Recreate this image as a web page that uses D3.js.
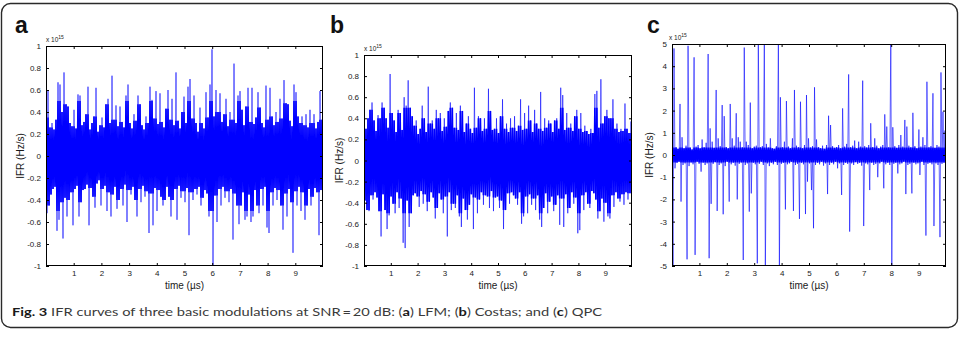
<!DOCTYPE html>
<html><head><meta charset="utf-8">
<script src="https://cdn.jsdelivr.net/npm/d3@7"></script>
<style>body{margin:0;background:#fff}svg{display:block}</style>
</head><body>
<svg id="chart" width="959" height="346"></svg>
<script>
// ---------------- data ----------------
const timeDomain = [0, 10];                    // time (µs)
const xTickValues = [1, 2, 3, 4, 5, 6, 7, 8, 9];
const yTicksAB = [-1, -0.8, -0.6, -0.4, -0.2, 0, 0.2, 0.4, 0.6, 0.8, 1];
const yTicksC = [-5, -4, -3, -2, -1, 0, 1, 2, 3, 4, 5];
const panelLetters = ["a", "b", "c"];
const scaleExponent = "15";
const xLabel = "time (\u00b5s)";
const yLabel = "IFR (Hz/s)";

// IFR samples (×10^15 Hz/s), alternating positive (upper) / negative (lower) excursions
const lfmUpper = [0.35,0.60,0.26,0.30,0.24,0.33,0.67,0.65,0.40,0.76,0.47,0.45,0.30,0.27,0.42,0.25,0.56,0.55,0.28,0.31,
0.38,0.63,0.24,0.30,0.36,0.62,0.22,0.28,0.35,0.26,0.47,0.52,0.30,0.73,0.33,0.46,0.27,0.45,0.31,0.26,
0.55,0.65,0.30,0.25,0.38,0.32,0.55,0.47,0.28,0.24,0.36,0.30,0.63,0.51,0.34,0.59,0.29,0.57,0.31,0.26,
0.43,0.60,0.33,0.52,0.28,0.76,0.32,0.25,0.40,0.54,0.30,0.63,0.70,0.34,0.55,0.30,0.22,0.44,0.30,0.25,
0.58,0.35,0.65,0.97,0.36,0.60,0.40,0.57,0.31,0.38,0.52,0.27,0.40,0.33,0.84,0.30,0.55,0.59,0.42,0.28,
0.45,0.62,0.31,0.62,0.29,0.35,0.58,0.44,0.30,0.26,0.64,0.33,0.62,0.36,0.28,0.40,0.31,0.52,0.34,0.69,
0.48,0.47,0.32,0.27,0.65,0.58,0.36,0.30,0.36,0.28,0.38,0.26,0.42,0.30,0.38,0.25,0.31,0.59,0.33];
const lfmLower = [-0.52,-0.45,-0.35,-0.30,-0.28,-0.68,-0.58,-0.42,-0.75,-0.38,-0.55,-0.40,-0.33,-0.63,-0.30,-0.27,-0.55,-0.42,-0.31,-0.30,
-0.26,-0.63,-0.29,-0.37,-0.47,-0.25,-0.22,-0.45,-0.30,-0.27,-0.50,-0.33,-0.55,-0.35,-0.28,-0.48,-0.40,-0.30,-0.45,-0.26,
-0.60,-0.31,-0.35,-0.28,-0.40,-0.55,-0.30,-0.42,-0.27,-0.37,-0.32,-0.70,-0.34,-0.63,-0.29,-0.50,-0.31,-0.37,-0.45,-0.40,
-0.28,-0.37,-0.55,-0.40,-0.30,-0.58,-0.27,-0.38,-0.32,-0.42,-0.29,-0.72,-0.33,-0.40,-0.30,-0.35,-0.28,-0.45,-0.38,-0.31,
-0.34,-0.55,-0.50,-1.00,-0.36,-0.60,-0.30,-0.45,-0.28,-0.38,-0.32,-0.42,-0.30,-0.76,-0.34,-0.45,-0.62,-0.45,-0.33,-0.58,
-0.55,-0.35,-0.60,-0.55,-0.31,-0.45,-0.52,-0.30,-0.45,-0.28,-0.65,-0.70,-0.33,-0.45,-0.29,-0.40,-0.31,-0.45,-0.67,-0.34,
-0.55,-0.30,-0.42,-0.88,-0.32,-0.45,-0.28,-0.50,-0.33,-0.58,-0.45,-0.30,-0.45,-0.37,-0.29,-0.33,-0.72,-0.31,-0.35];

const costasUpper = [0.52,0.30,0.40,0.48,0.55,0.38,0.28,0.43,0.40,0.55,0.50,0.40,0.31,0.82,0.45,0.38,0.27,0.48,0.45,0.29,
0.60,0.52,0.76,0.50,0.42,0.33,0.38,0.25,0.30,0.52,0.40,0.27,0.70,0.35,0.38,0.30,0.48,0.40,0.45,0.28,
0.40,0.32,0.47,0.55,0.50,0.31,0.45,0.29,0.52,0.47,0.27,0.35,0.42,0.30,0.26,0.69,0.31,0.42,0.40,0.28,
0.40,0.30,0.68,0.47,0.29,0.30,0.40,0.26,0.42,0.58,0.30,0.35,0.27,0.40,0.31,0.42,0.28,0.33,0.58,0.29,
0.45,0.30,0.52,0.38,0.27,0.48,0.35,0.30,0.65,0.28,0.40,0.31,0.38,0.35,0.27,0.38,0.40,0.30,0.69,0.62,
0.29,0.45,0.31,0.35,0.28,0.42,0.48,0.30,0.45,0.27,0.33,0.28,0.25,0.30,0.26,0.63,0.66,0.31,0.77,0.35,
0.42,0.48,0.40,0.40,0.58,0.30,0.35,0.27,0.30,0.28,0.54,0.30,0.26,0.37];
const costasLower = [-0.38,-0.47,-0.48,-0.33,-0.37,-0.30,-0.35,-0.48,-0.72,-0.32,-0.47,-0.65,-0.52,-0.34,-0.41,-0.50,-0.30,-0.45,-0.36,-0.78,
-0.83,-0.38,-0.63,-0.50,-0.33,-0.31,-0.34,-0.44,-0.29,-0.41,-0.32,-0.48,-0.39,-0.30,-0.35,-0.55,-0.45,-0.31,-0.37,-0.50,
-0.34,-0.72,-0.30,-0.47,-0.41,-0.45,-0.33,-0.53,-0.63,-0.36,-0.47,-0.56,-0.42,-0.32,-0.65,-0.35,-0.50,-0.37,-0.30,-0.42,
-0.33,-0.34,-0.45,-0.29,-0.48,-0.35,-0.34,-0.45,-0.38,-0.65,-0.47,-0.31,-0.41,-0.30,-0.33,-0.36,-0.42,-0.30,-0.60,-0.53,
-0.34,-0.50,-0.32,-0.42,-0.36,-0.47,-0.33,-0.56,-0.63,-0.45,-0.31,-0.50,-0.39,-0.34,-0.48,-0.42,-0.33,-0.61,-0.36,-0.63,
-0.32,-0.50,-0.45,-0.30,-0.41,-0.35,-0.69,-0.66,-0.33,-0.47,-0.30,-0.41,-0.45,-0.29,-0.31,-0.37,-0.55,-0.48,-0.36,-0.58,
-0.40,-0.53,-0.55,-0.33,-0.44,-0.30,-0.36,-0.39,-0.32,-0.42,-0.30,-0.37,-0.31,-0.35];

const qpcUpper = [0.50,4.80,0.35,0.28,2.30,0.80,0.30,0.42,4.92,0.33,0.25,4.40,0.38,0.45,0.30,0.70,0.35,0.55,4.55,1.20,
0.60,0.32,2.93,0.75,0.40,2.25,1.75,0.36,0.30,2.30,0.75,0.42,1.88,0.80,0.60,0.35,4.84,0.60,0.45,2.36,
0.30,0.38,0.42,5.20,0.35,0.40,5.20,0.50,0.33,0.75,0.30,0.28,0.40,5.20,2.60,0.35,0.60,2.43,0.38,0.30,
0.75,2.93,0.42,0.35,2.40,0.30,0.45,2.70,0.75,0.33,0.40,3.05,0.70,0.35,0.30,0.42,0.28,0.45,1.77,1.35,
0.40,0.32,0.36,0.45,0.30,2.10,0.38,0.50,3.63,0.35,0.42,0.65,0.30,0.60,0.38,3.35,0.40,0.33,0.45,1.43,
0.36,0.75,0.42,0.30,0.38,0.45,1.83,1.28,0.35,5.20,1.25,0.40,0.32,0.45,0.90,0.38,1.58,1.28,0.42,0.35,
1.90,0.40,0.30,1.15,0.38,0.80,0.45,3.30,0.35,0.40,2.78,0.32,0.45,0.38,3.72,1.95,1.10];
const qpcLower = [-5.20,-0.60,-0.35,-0.30,-2.10,-0.45,-0.38,-4.70,-0.50,-0.33,-0.42,-4.50,-0.30,-0.40,-0.75,-0.35,-0.45,-0.38,-4.65,-2.20,
-0.40,-0.32,-2.52,-0.45,-0.38,-2.67,-0.50,-0.30,-2.10,-0.42,-0.35,-0.48,-2.00,-0.40,-0.33,-4.73,-0.45,-0.38,-2.55,-1.73,
-0.35,-0.42,-4.88,-0.40,-0.30,-0.45,-5.20,-0.38,-0.50,-0.35,-0.42,-0.30,-0.45,-5.20,-0.40,-0.35,-2.45,-0.42,-0.38,-0.30,
-2.52,-0.45,-0.40,-2.88,-0.35,-0.42,-2.66,-1.20,-0.38,-1.58,-3.30,-0.45,-0.35,-0.42,-0.30,-0.48,-0.38,-1.76,-0.45,-0.35,
-0.42,-0.30,-0.60,-0.38,-1.80,-0.45,-0.35,-0.40,-3.45,-0.38,-0.45,-0.32,-0.40,-0.35,-0.48,-3.20,-0.38,-0.42,-1.58,-0.35,
-0.45,-0.40,-1.00,-0.38,-0.30,-1.50,-0.42,-0.35,-0.45,-5.20,-0.40,-0.35,-0.83,-0.42,-0.38,-0.30,-1.76,-0.45,-0.40,-1.73,
-0.35,-0.42,-0.38,-0.90,-0.30,-0.45,-3.63,-0.40,-0.35,-0.42,-3.20,-0.38,-0.45,-3.70,-0.40,-0.35,-0.68];

const captionParts = [
  {t: "Fig. 3", b: true}, {t: " IFR curves of three basic modulations at SNR\u2009=\u200920 dB: (", b: false},
  {t: "a", b: true}, {t: ") LFM; (", b: false}, {t: "b", b: true}, {t: ") Costas; and (", b: false},
  {t: "c", b: true}, {t: ") QPC", b: false}
];

// ---------------- layout ----------------
const panels = [
  {letter: panelLetters[0], up: lfmUpper, lo: lfmLower, yTicks: yTicksAB, yDom: [-1, 1], coreCap: 0.5,
   box: {l: 46, r: 323, t: 46, b: 266}, letterX: 15, yTitleX: 20, expX: 46},
  {letter: panelLetters[1], up: costasUpper, lo: costasLower, yTicks: yTicksAB, yDom: [-1, 1], coreCap: 0.5,
   box: {l: 364, r: 632, t: 55, b: 266}, letterX: 330, yTitleX: 339, expX: 364},
  {letter: panelLetters[2], up: qpcUpper, lo: qpcLower, yTicks: yTicksC, yDom: [-5, 5], coreCap: 0.34,
   box: {l: 672, r: 946, t: 44, b: 266}, letterX: 647, yTitleX: 649, expX: 669}
];

const svg = d3.select("#chart");
const FONT = "'Liberation Sans', Arial, sans-serif";

svg.append("rect").attr("x", 1.5).attr("y", 3.5).attr("width", 956).attr("height", 324)
  .attr("rx", 9).attr("fill", "none").attr("stroke", "#2a2a2a").attr("stroke-width", 1.4);

const defs = svg.append("defs");

panels.forEach((p, pi) => {
  const B = p.box;
  const x = d3.scaleLinear().domain(timeDomain).range([B.l, B.r]);
  const y = d3.scaleLinear().domain(p.yDom).range([B.b, B.t]);

  const samples = [];
  p.up.forEach((u, k) => { samples.push(u); if (k < p.lo.length) samples.push(p.lo[k]); });
  const n = samples.length;
  const pts = samples.map((v, i) => ({t: timeDomain[0] + i * (timeDomain[1] - timeDomain[0]) / (n - 1), v}));

  const g = svg.append("g");
  defs.append("clipPath").attr("id", "clip" + pi).append("rect")
    .attr("x", B.l).attr("y", B.t).attr("width", B.r - B.l).attr("height", B.b - B.t);

  const line = d3.line().x(d => x(d.t)).y(d => y(d.v));
  // full trace: isolated excursions appear light, as in the anti-aliased original
  g.append("path").datum(pts)
    .attr("clip-path", `url(#clip${pi})`)
    .attr("fill", "none").attr("stroke", "#0000ff").attr("stroke-opacity", 0.58).attr("stroke-width", 1)
    .attr("d", line);
  // dense core: where neighbouring excursions overlap, the trace renders solid
  const corePts = pts.map((d, i) => {
    const a = Math.abs(d.v);
    const nb = Math.max(i >= 2 ? Math.abs(pts[i - 2].v) : 0, i + 2 < n ? Math.abs(pts[i + 2].v) : 0);
    const m = Math.min(a, nb, p.coreCap);
    return {t: d.t, v: Math.sign(d.v) * m};
  });
  g.append("path").datum(corePts)
    .attr("clip-path", `url(#clip${pi})`)
    .attr("fill", "none").attr("stroke", "#0000ff").attr("stroke-width", 1.6)
    .attr("d", line);

  const fmt = d => String(d);
  const styleAxis = sel => {
    sel.selectAll("path.domain").remove();
    sel.selectAll("line").attr("stroke", "#000");
    sel.selectAll("text").attr("font-family", FONT).attr("font-size", 8).attr("fill", "#1a1a1a");
  };
  g.append("g").attr("transform", `translate(0,${B.b})`)
    .call(d3.axisBottom(x).tickValues(xTickValues).tickSize(-3).tickPadding(4).tickFormat(fmt)).call(styleAxis);
  g.append("g").attr("transform", `translate(0,${B.t})`)
    .call(d3.axisTop(x).tickValues(xTickValues).tickSize(-3).tickFormat("")).call(styleAxis);
  g.append("g").attr("transform", `translate(${B.l},0)`)
    .call(d3.axisLeft(y).tickValues(p.yTicks).tickSize(-3).tickPadding(5).tickFormat(fmt)).call(styleAxis);
  g.append("g").attr("transform", `translate(${B.r},0)`)
    .call(d3.axisRight(y).tickValues(p.yTicks).tickSize(-3).tickFormat("")).call(styleAxis);

  g.append("rect").attr("x", B.l + 0.5).attr("y", B.t + 0.5).attr("width", B.r - B.l - 1).attr("height", B.b - B.t - 1)
    .attr("fill", "none").attr("stroke", "#000").attr("stroke-width", 1);

  const ex = g.append("text").attr("x", p.expX).attr("y", B.t - 4)
    .attr("font-family", FONT).attr("font-size", 6.5).attr("fill", "#1a1a1a");
  ex.append("tspan").text("x 10");
  ex.append("tspan").attr("dy", -3).attr("font-size", 5).text(scaleExponent);

  g.append("text").attr("x", (B.l + B.r) / 2).attr("y", 289).attr("text-anchor", "middle")
    .attr("font-family", FONT).attr("font-size", 10).attr("fill", "#1a1a1a").text(xLabel);
  g.append("text").attr("transform", `translate(${p.yTitleX},${(B.t + B.b) / 2}) rotate(-90)`)
    .attr("text-anchor", "middle").attr("dy", "0.35em")
    .attr("font-family", FONT).attr("font-size", 10).attr("fill", "#1a1a1a").text(yLabel);

  g.append("text").attr("x", p.letterX).attr("y", 33)
    .attr("font-family", FONT).attr("font-size", 23).attr("font-weight", "bold").attr("fill", "#111").text(p.letter);
});

const cap = svg.append("text").attr("x", 12).attr("y", 316)
  .attr("font-family", "Lato, 'Open Sans', sans-serif").attr("font-size", 12).attr("fill", "#3a3a3a")
  .attr("textLength", 590).attr("lengthAdjust", "spacingAndGlyphs");
captionParts.forEach(c => cap.append("tspan").attr("font-weight", c.b ? "bold" : "normal")
  .attr("fill", c.b ? "#1a1a1a" : null).text(c.t));
</script>
</body></html>
